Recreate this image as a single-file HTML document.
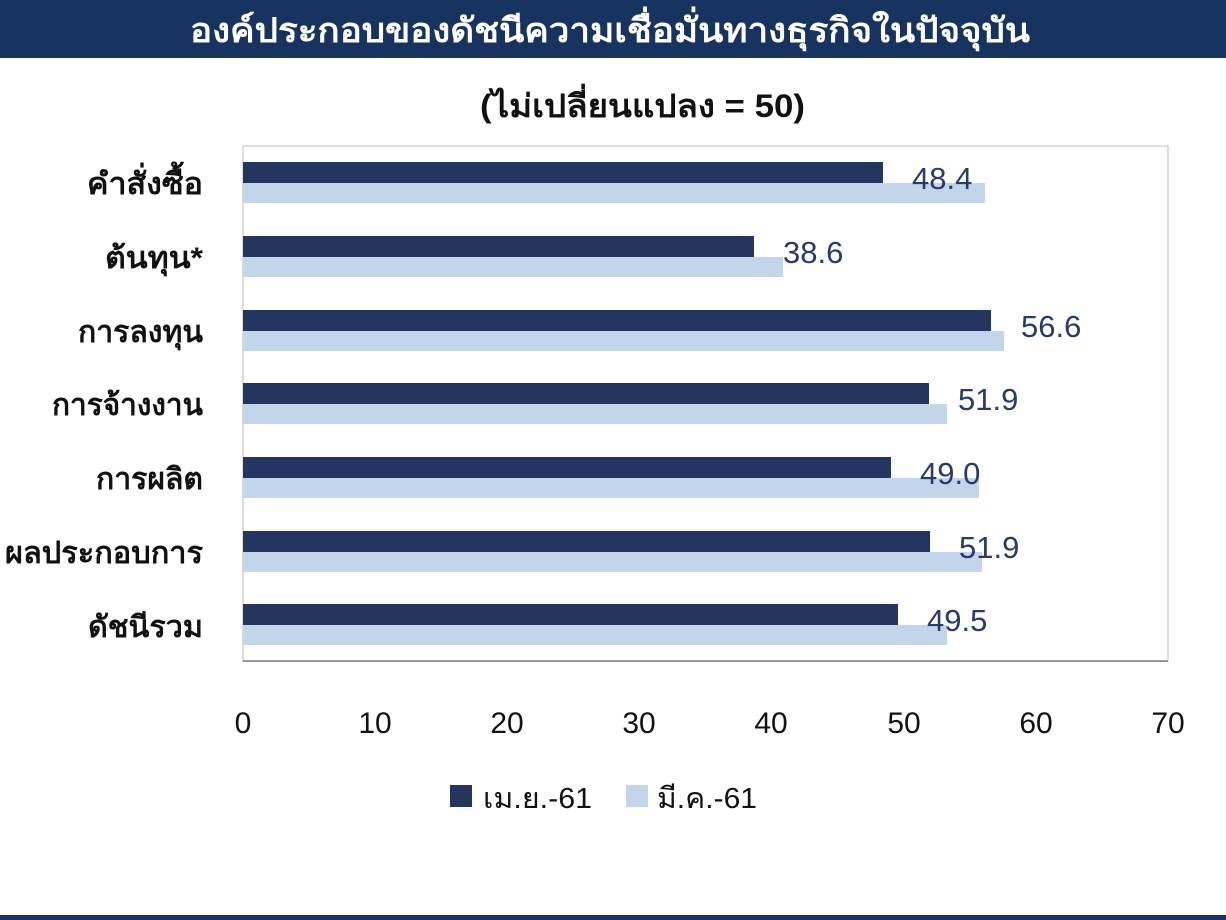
<!DOCTYPE html>
<html><head><meta charset="utf-8"><style>
html,body{margin:0;padding:0;background:#fff;}
body{width:1226px;height:920px;position:relative;overflow:hidden;font-family:"Liberation Sans","DejaVu Sans",sans-serif;}
</style></head><body>
<svg width="1226" height="920" xmlns="http://www.w3.org/2000/svg" style="position:absolute;left:0;top:0">
<rect x="0" y="0" width="1226" height="58" fill="#17335f"/>
<text x="190" y="42" textLength="840" lengthAdjust="spacingAndGlyphs" font-size="34" font-weight="bold" fill="#fff" font-family="Liberation Sans, DejaVu Sans, sans-serif">องค์ประกอบของดัชนีความเชื่อมั่นทางธุรกิจในปัจจุบัน</text>
<text x="480" y="117" textLength="325" lengthAdjust="spacingAndGlyphs" font-size="32" font-weight="bold" fill="#111" font-family="Liberation Sans, DejaVu Sans, sans-serif">(ไม่เปลี่ยนแปลง = 50)</text>
<rect x="243" y="146" width="925" height="515" fill="none" stroke="#d0d0d0" stroke-width="1.5"/>
<line x1="243" y1="661" x2="1168" y2="661" stroke="#999" stroke-width="2"/>
<g font-family="Liberation Sans, DejaVu Sans, sans-serif">
<g>
<rect x="243" y="162" width="640" height="21" fill="#24355f"/><rect x="243" y="183" width="742" height="20" fill="#c3d5ea"/>
<rect x="243" y="236" width="511" height="21" fill="#24355f"/><rect x="243" y="257" width="540" height="20" fill="#c3d5ea"/>
<rect x="243" y="310" width="748" height="21" fill="#24355f"/><rect x="243" y="331" width="761" height="20" fill="#c3d5ea"/>
<rect x="243" y="383" width="686" height="21" fill="#24355f"/><rect x="243" y="404" width="704" height="20" fill="#c3d5ea"/>
<rect x="243" y="457" width="648" height="21" fill="#24355f"/><rect x="243" y="478" width="736" height="20" fill="#c3d5ea"/>
<rect x="243" y="531" width="687" height="21" fill="#24355f"/><rect x="243" y="552" width="739" height="20" fill="#c3d5ea"/>
<rect x="243" y="604" width="655" height="21" fill="#24355f"/><rect x="243" y="625" width="704" height="20" fill="#c3d5ea"/>
</g>
<g font-size="31" fill="#2a3a6a">
<text x="912" y="189">48.4</text>
<text x="783" y="263">38.6</text>
<text x="1021" y="337">56.6</text>
<text x="958" y="410">51.9</text>
<text x="920" y="484">49.0</text>
<text x="959" y="558">51.9</text>
<text x="927" y="631">49.5</text>
</g>
<g font-size="30" font-weight="bold" fill="#111">
<text x="87" y="194" textLength="116" lengthAdjust="spacingAndGlyphs">คำสั่งซื้อ</text>
<text x="105" y="268" textLength="98" lengthAdjust="spacingAndGlyphs">ต้นทุน*</text>
<text x="78" y="342" textLength="125" lengthAdjust="spacingAndGlyphs">การลงทุน</text>
<text x="52" y="415" textLength="151" lengthAdjust="spacingAndGlyphs">การจ้างงาน</text>
<text x="96" y="489" textLength="107" lengthAdjust="spacingAndGlyphs">การผลิต</text>
<text x="5" y="563" textLength="198" lengthAdjust="spacingAndGlyphs">ผลประกอบการ</text>
<text x="88" y="637" textLength="115" lengthAdjust="spacingAndGlyphs">ดัชนีรวม</text>
</g>
<g font-size="30" fill="#111" text-anchor="middle">
<text x="243" y="733">0</text><text x="375" y="733">10</text><text x="507" y="733">20</text><text x="639" y="733">30</text><text x="771" y="733">40</text><text x="904" y="733">50</text><text x="1036" y="733">60</text><text x="1168" y="733">70</text>
</g>
<rect x="450" y="785" width="22" height="22" fill="#24355f"/>
<text x="483" y="808" font-size="29" fill="#111" textLength="109" lengthAdjust="spacingAndGlyphs">เม.ย.-61</text>
<rect x="626" y="785" width="22" height="22" fill="#c3d5ea"/>
<text x="657" y="808" font-size="29" fill="#111" textLength="100" lengthAdjust="spacingAndGlyphs">มี.ค.-61</text>
</g>
<rect x="0" y="915" width="1226" height="5" fill="#17335f"/>
</svg>
</body></html>
